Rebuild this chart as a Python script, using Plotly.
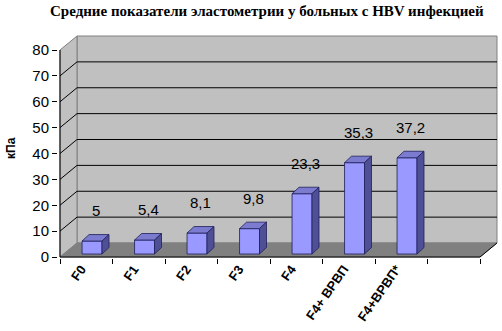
import plotly.graph_objects as go

# ---- data ----
categories = ["F0", "F1", "F2", "F3", "F4", "F4+ ВРВП", "F4+ВРВП*", " "]
values = [5, 5.4, 8.1, 9.8, 23.3, 35.3, 37.2, None]
value_labels = ["5", "5,4", "8,1", "9,8", "23,3", "35,3", "37,2", ""]
y_ticks = [0, 10, 20, 30, 40, 50, 60, 70, 80]
title_text = "Средние показатели эластометрии у больных с HBV инфекцией"
y_title = "кПа"

# ---- geometry / style ----
W, H = 502, 331
L, R, T, B = 58, 3, 34, 73
PX_X = 52.5        # px per category
PX_Y = 2.5875      # px per unit
X0PX, Y0PX = 60, 257   # pixel of (-0.5, 0)
plot_w = W - L - R
plot_h = H - T - B
xr = [-0.5 - (X0PX - L) / PX_X, -0.5 + (W - R - X0PX) / PX_X]
yr = [(Y0PX - (H - B)) / PX_Y, (Y0PX - T) / PX_Y]

DX = 17 / PX_X     # wall depth
DY = 14 / PX_Y
BASE = 3 / PX_Y    # bars sit slightly back on the floor
BW = 0.38          # bar width
BOFF = -0.08       # bar offset
BDX = 7 / PX_X     # bar depth
BDY = 6.5 / PX_Y
YMAX = 80
XEND = len(categories) - 0.5

def px2paper_x(px):
    return (px - L) / plot_w

def px2paper_y(py):
    return (H - B - py) / plot_h

wall = "#c0c0c0"
floor = "#808080"
edge = "#808080"
front_c = "#9999ff"
top_c = "#7b7bd0"
side_c = "#4f4f96"
outline = "#20205a"

shapes = []
# back wall
shapes.append(dict(type="rect", xref="x", yref="y", layer="below",
                   x0=-0.5 + DX, x1=XEND + DX, y0=DY, y1=YMAX + DY,
                   fillcolor=wall, line=dict(color=edge, width=1)))
# left wall
shapes.append(dict(type="path", xref="x", yref="y", layer="below",
                   path=f"M {-0.5},{0} L {-0.5},{YMAX} L {-0.5+DX},{YMAX+DY} L {-0.5+DX},{DY} Z",
                   fillcolor=wall, line=dict(color=edge, width=1)))
# floor
shapes.append(dict(type="path", xref="x", yref="y", layer="below",
                   path=f"M {-0.5},{0} L {XEND},{0} L {XEND+DX},{DY} L {-0.5+DX},{DY} Z",
                   fillcolor=floor, line=dict(color=floor, width=1)))
# gridlines
for v in y_ticks[1:-1]:
    shapes.append(dict(type="line", xref="x", yref="y", layer="below",
                       x0=-0.5 + DX, x1=XEND + DX, y0=v + DY, y1=v + DY,
                       line=dict(color="black", width=1)))
    shapes.append(dict(type="line", xref="x", yref="y", layer="below",
                       x0=-0.5, x1=-0.5 + DX, y0=v, y1=v + DY,
                       line=dict(color="black", width=1)))
# front axis lines
shapes.append(dict(type="line", xref="x", yref="y", x0=-0.5, x1=-0.5, y0=0, y1=YMAX,
                   line=dict(color="black", width=1)))
shapes.append(dict(type="line", xref="x", yref="y", x0=-0.5, x1=XEND, y0=0, y1=0,
                   line=dict(color="black", width=1)))
shapes.append(dict(type="line", xref="x", yref="y", x0=XEND, x1=XEND + DX, y0=0, y1=DY,
                   line=dict(color="black", width=1)))

annotations = []
# 3D faces of bars + value labels
for i, v in enumerate(values):
    if v is None:
        continue
    x0 = i + BOFF
    x1 = x0 + BW
    top = BASE + v
    shapes.append(dict(type="path", xref="x", yref="y",
                       path=f"M {x0},{top} L {x1},{top} L {x1+BDX},{top+BDY} L {x0+BDX},{top+BDY} Z",
                       fillcolor=top_c, line=dict(color=outline, width=0.8)))
    shapes.append(dict(type="path", xref="x", yref="y",
                       path=f"M {x1},{BASE} L {x1},{top} L {x1+BDX},{top+BDY} L {x1+BDX},{BASE+BDY} Z",
                       fillcolor=side_c, line=dict(color=outline, width=0.8)))
    annotations.append(dict(xref="x", yref="y", x=i + BOFF + BW / 2 + BDX / 2, y=v + 13,
                            text=value_labels[i], showarrow=False,
                            font=dict(family="Liberation Sans, Arial", size=15, color="black")))

annotations.append(dict(xref="paper", yref="paper", x=px2paper_x(267), y=px2paper_y(11),
                        text=title_text, showarrow=False, xanchor="center", yanchor="middle",
                        font=dict(family="Liberation Serif, Times New Roman", size=15,
                                  color="black", weight="bold")))
annotations.append(dict(xref="paper", yref="paper", x=px2paper_x(11), y=px2paper_y(148),
                        text=y_title, showarrow=False, textangle=-90,
                        xanchor="center", yanchor="middle",
                        font=dict(family="Liberation Sans, Arial", size=12,
                                  color="black", weight="bold")))

fig = go.Figure()
fig.add_trace(go.Bar(x=categories, y=values, base=BASE, width=BW, offset=BOFF,
                     marker=dict(color=front_c, line=dict(color=outline, width=0.8)),
                     hoverinfo="skip", showlegend=False))

fig.update_layout(
    width=W, height=H,
    margin=dict(l=L, r=R, t=T, b=B, pad=0),
    paper_bgcolor="white", plot_bgcolor="white",
    shapes=shapes, annotations=annotations,
    showlegend=False,
    xaxis=dict(type="category", categoryorder="array", categoryarray=categories,
               range=xr, showgrid=False, zeroline=False, showline=False,
               tickson="boundaries", ticks="outside", ticklen=5, tickcolor="black",
               tickangle=-55, ticklabelshift=-5,
               tickfont=dict(family="Liberation Sans, Arial", size=13, color="black",
                             weight="bold")),
    yaxis=dict(range=yr, showgrid=False, zeroline=False, showline=False,
               tickmode="array", tickvals=y_ticks, ticks="outside", ticklen=5,
               tickcolor="black",
               tickfont=dict(family="Liberation Sans, Arial", size=15, color="black")),
)

fig.write_html("out.html")
